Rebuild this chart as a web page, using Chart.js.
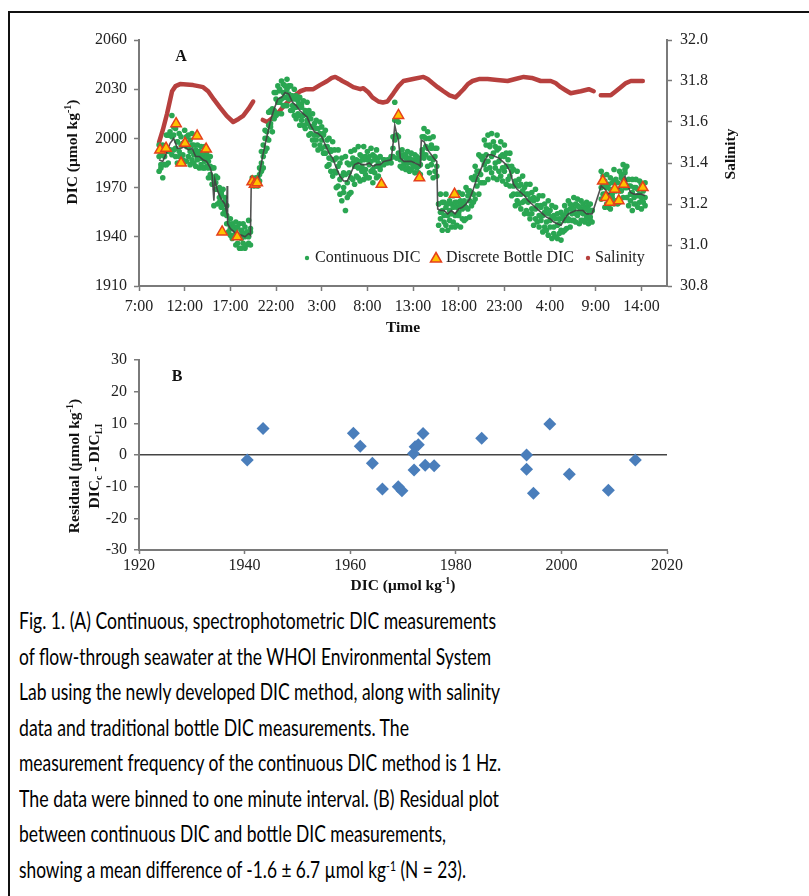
<!DOCTYPE html>
<html><head><meta charset="utf-8">
<script src="https://cdn.jsdelivr.net/npm/chart.js@4.4.1/dist/chart.umd.min.js"></script>
<style>
html,body{margin:0;padding:0;background:#fff;}
body{width:809px;height:896px;position:relative;overflow:hidden;}
#frame{position:absolute;left:8px;top:11px;width:900px;height:1000px;border-left:2px solid #111;border-top:2px solid #111;box-sizing:border-box;}
#cA{position:absolute;left:0;top:0;}
#cB{position:absolute;left:0;top:340px;}
.cap{position:absolute;left:19px;font-family:Lato,'Open Sans',sans-serif;font-size:22.5px;line-height:22.5px;white-space:nowrap;transform-origin:0 0;color:#000;}
.cap sup{font-size:0.6em;line-height:0;vertical-align:0.5em;}
</style></head>
<body>
<div id="frame"></div>
<canvas id="cA" width="809" height="340"></canvas>
<canvas id="cB" width="809" height="260"></canvas>
<div id="caption">
<div class="cap">Fig. 1. (A) Continuous, spectrophotometric DIC measurements</div>
<div class="cap">of flow-through seawater at the WHOI Environmental System</div>
<div class="cap">Lab using the newly developed DIC method, along with salinity</div>
<div class="cap">data and traditional bottle DIC measurements. The</div>
<div class="cap">measurement frequency of the continuous DIC method is 1 Hz.</div>
<div class="cap">The data were binned to one minute interval. (B) Residual plot</div>
<div class="cap">between continuous DIC and bottle DIC measurements,</div>
<div class="cap">showing a mean difference of -1.6 ± 6.7 µmol kg<sup>-1</sup> (N = 23).</div>
</div>
<script>
// ---------------- DATA ----------------
// Panel A: time axis in hours since 00:00 of day 1
const xTickHours = [7,12,17,22,27,32,37,42,47,52,57,62];
const xTickLabels = ['7:00','12:00','17:00','22:00','3:00','8:00','13:00','18:00','23:00','4:00','9:00','14:00'];
const dicTicks = [1910,1940,1970,2000,2030,2060];
const salTicks = [30.8,31.0,31.2,31.4,31.6,31.8,32.0];

// Continuous DIC: sample times (h) with dots read from the upper, middle and lower part of the band (µmol/kg)
const dicHour = [9.2,9.4,9.6,9.8,10.0,10.2,10.4,10.6,10.8,11.0,11.2,11.4,11.6,11.8,12.0,12.2,12.4,12.6,12.8,13.0,
13.2,13.4,13.6,13.8,14.0,14.2,14.4,14.6,14.8,15.0,15.2,15.4,15.6,15.8,16.0,16.2,16.4,16.6,16.8,17.0,
17.2,17.4,17.6,17.8,18.0,18.2,18.4,18.6,18.8,19.0,19.2,19.4,19.6,19.8,20.0,20.2,20.4,20.6,20.8,21.0,
21.2,21.4,21.6,21.8,22.0,22.2,22.4,22.6,22.8,23.0,23.2,23.4,23.6,23.8,24.0,24.2,24.4,24.6,24.8,25.0,
25.2,25.4,25.6,25.8,26.0,26.2,26.4,26.6,26.8,27.0,27.2,27.4,27.6,27.8,28.0,28.2,28.4,28.6,28.8,29.0,
29.2,29.4,29.6,29.8,30.0,30.2,30.4,30.6,30.8,31.0,31.2,31.4,31.6,31.8,32.0,32.2,32.4,32.6,32.8,33.0,
33.2,33.4,33.8,34.2,34.6,
34.8,35.0,35.2,35.4,35.6,35.8,36.0,36.2,36.4,36.6,36.8,37.0,37.2,37.4,37.6,37.8,38.0,38.2,38.4,38.6,
38.8,39.0,39.2,39.4,39.6,39.8,40.0,40.2,40.4,40.6,40.8,41.0,41.2,41.4,41.6,41.8,42.0,42.2,42.4,42.6,
42.8,43.0,43.2,43.4,43.6,43.8,44.0,44.2,44.4,44.6,44.8,45.0,45.2,45.4,45.6,45.8,46.0,46.2,46.4,46.6,
46.8,47.0,47.2,47.4,47.6,47.8,48.0,48.2,48.4,48.6,48.8,49.0,49.2,49.4,49.6,49.8,50.0,50.2,50.4,50.6,
50.8,51.0,51.2,51.4,51.6,51.8,52.0,52.2,52.4,52.6,52.8,53.0,53.2,53.4,53.6,53.8,54.0,54.2,54.4,54.6,
54.8,55.0,55.2,55.4,55.6,55.8,56.0,56.2,56.4,56.6,
57.6,57.8,58.0,58.2,58.4,58.6,58.8,59.0,59.2,59.4,59.6,59.8,60.0,60.2,60.4,60.6,60.8,61.0,61.2,61.4,61.6,61.8,62.0,62.2,62.4];
const dicUpper = [1996,1990,1996,1993,2002,2002,2004,2014,2007,2006,1998,2003,2001,1997,2005,2001,2002,1999,2003,1996,
1993,1996,1992,1995,1990,1995,1991,1986,1989,1982,1982,1977,1976,1970,1967,1969,1964,1959,1948,1951,
1948,1946,1949,1946,1948,1944,1948,1946,1943,1950,1945,1976,1974,1976,1976,1982,1992,1996,2005,2004,
2016,2017,2018,2028,2028,2032,2030,2035,2033,2032,2036,2032,2032,2026,2030,2026,2023,2025,2021,2023,
2017,2022,2017,2012,2015,2009,2011,2006,2010,2007,2003,2005,1999,2000,1993,1998,1993,1988,1993,1985,
1988,1979,1989,1985,1984,1992,1988,1993,1987,1995,1990,1989,1995,1989,1992,1989,1994,1990,1989,1993,
1988,1989,1987,1987,1989,
2001,2022,2011,2010,1990,1993,1990,1990,1992,1988,1991,1987,1990,1989,1986,1988,2001,2006,2000,2004,
2000,1996,2001,1994,1994,1960,1966,1961,1961,1966,1960,1962,1960,1965,1961,1961,1967,1962,1966,1962,
1970,1968,1968,1976,1975,1983,1980,1990,1989,1989,1999,1996,2002,1996,2003,1998,1995,2002,1994,1998,
1990,1996,1991,1987,1991,1983,1981,1974,1980,1975,1972,1977,1970,1972,1966,1972,1967,1964,1969,1963,
1965,1959,1965,1960,1957,1962,1956,1959,1953,1958,1954,1951,1955,1953,1959,1956,1962,1960,1959,1964,
1960,1963,1958,1962,1960,1958,1961,1959,1960,1956,
1980,1977,1974,1978,1972,1976,1973,1981,1975,1973,1980,1978,1984,1981,1983,1975,1971,1975,1970,1975,1969,1974,1972,1970,1973];
const dicMiddle = [1989,1984,1990,1989,1994,1992,2002,2001,2002,1994,1998,1992,1996,1990,1998,1995,1995,1992,1996,1990,
1991,1988,1990,1988,1988,1986,1988,1982,1983,1976,1975,1973,1969,1964,1966,1960,1961,1953,1948,1945,
1945,1941,1944,1941,1941,1939,1942,1940,1941,1940,1943,1974,1973,1974,1975,1978,1985,1989,2000,2000,
2008,2009,2016,2017,2024,2022,2029,2024,2028,2025,2030,2027,2026,2020,2024,2019,2020,2014,2019,2014,
2015,2011,2014,2007,2007,2002,2006,2002,2003,1999,2002,1995,1995,1988,1992,1987,1987,1979,1983,1975,
1977,1970,1978,1973,1979,1976,1985,1983,1985,1982,1986,1983,1987,1981,1987,1984,1986,1981,1987,1983,
1985,1983,1987,1986,1988,
1994,2011,2002,2001,1987,1989,1985,1988,1985,1987,1985,1986,1983,1987,1983,1984,1993,2001,1995,1994,
1988,1994,1987,1989,1983,1960,1955,1956,1953,1958,1953,1956,1954,1958,1953,1958,1955,1959,1957,1960,
1958,1965,1962,1967,1966,1977,1975,1980,1978,1987,1984,1990,1986,1995,1989,1991,1985,1993,1986,1989,
1982,1989,1983,1983,1977,1980,1971,1972,1966,1971,1966,1968,1962,1966,1961,1963,1957,1962,1957,1959,
1953,1958,1953,1955,1949,1954,1950,1952,1946,1951,1947,1948,1944,1951,1950,1954,1951,1957,1954,1957,
1954,1959,1955,1956,1954,1957,1953,1956,1952,1956,
1970,1972,1966,1970,1965,1969,1966,1974,1968,1969,1968,1976,1974,1979,1970,1971,1966,1967,1964,1970,1965,1966,1964,1968,1964];
const dicLower = [1980,1982,1976,1984,1984,1985,1993,1990,1993,1989,1985,1989,1985,1987,1986,1986,1989,1984,1987,1985,
1983,1987,1982,1984,1982,1982,1983,1976,1978,1972,1959,1969,1960,1961,1958,1954,1956,1948,1943,1941,
1939,1940,1935,1936,1933,1933,1936,1933,1935,1936,1935,1973,1971,1973,1971,1974,1980,1982,1992,1994,
1999,2007,2004,2012,2014,2015,2022,2015,2020,2020,2020,2024,2017,2017,2014,2012,2015,2008,2011,2008,
2006,2009,2002,2003,1999,1996,1999,1993,1996,1994,1991,1991,1983,1984,1980,1977,1980,1970,1971,1966,
1962,1967,1956,1964,1966,1967,1975,1972,1977,1976,1974,1980,1975,1978,1976,1976,1980,1973,1979,1976,
1977,1981,1984,1985,1985,
1989,1999,1988,1991,1983,1982,1983,1981,1982,1980,1981,1983,1979,1982,1979,1978,1991,1988,1990,1983,
1979,1984,1976,1980,1977,1947,1951,1944,1949,1947,1944,1950,1946,1949,1946,1947,1953,1946,1951,1950,
1951,1957,1952,1959,1961,1963,1971,1966,1973,1973,1973,1981,1975,1982,1979,1976,1982,1975,1980,1977,
1974,1980,1972,1975,1971,1965,1966,1959,1962,1960,1957,1961,1954,1956,1954,1951,1954,1947,1951,1949,
1946,1950,1943,1946,1944,1941,1946,1939,1942,1940,1939,1942,1938,1943,1944,1945,1950,1946,1950,1950,
1949,1953,1948,1950,1950,1949,1951,1948,1950,1949,
1963,1966,1958,1960,1958,1957,1964,1960,1962,1960,1961,1968,1964,1970,1964,1959,1962,1956,1960,1960,1958,1961,1957,1961,1959];

// Dark running-mean line through the continuous record
const trendHour = [9.2,9.6,10.0,10.4,10.8,11.2,11.6,12.0,12.4,12.8,13.2,13.6,14.0,14.4,14.8,15.0,15.2,15.3,15.6,16.0,16.4,16.6,16.65,16.7,17.0,17.4,17.8,18.2,18.6,19.0,19.2,19.3,19.4,19.8,20.0,20.2,20.6,21.0,21.4,21.8,22.2,22.6,23.0,23.4,23.8,24.2,24.6,25.0,25.4,25.8,26.2,26.6,27.0,27.4,27.8,28.2,28.6,29.0,29.4,29.8,30.2,30.6,31.0,31.4,31.8,32.2,32.6,33.0,33.4,33.8,34.6,34.8,35.0,35.2,35.4,35.6,36.0,36.4,36.8,37.2,37.6,37.8,37.9,38.2,38.6,39.0,39.4,39.6,39.7,40.0,40.4,40.8,41.2,41.6,42.0,42.4,42.8,43.2,43.6,44.0,44.4,44.8,45.2,45.6,46.0,46.4,46.8,47.2,47.6,48.0,48.4,48.8,49.2,49.6,50.0,50.4,50.8,51.2,51.6,52.0,52.4,52.8,53.2,53.6,54.0,54.4,54.8,55.2,55.6,56.0,56.4,56.6,57.6,58.0,58.4,58.8,59.2,59.6,60.0,60.2,60.4,60.8,61.2,61.6,62.0,62.4];
const trendValue = [1987,1986,1991,1997,2000,1994,1994,1995,1993,1994,1989,1989,1987,1986,1982,1978,1962,1975,1968,1963,1960,1955,1971,1948,1945,1943,1941,1941,1940,1942,1941,1977,1974,1974,1973,1979,1991,2001,2011,2018,2024,2025,2028,2027,2022,2020,2017,2015,2013,2008,2004,2003,2001,1996,1991,1988,1982,1977,1974,1974,1979,1984,1985,1984,1984,1985,1983,1984,1984,1986,1987,1996,2008,2003,1999,1988,1986,1986,1986,1985,1984,1983,1999,1998,1993,1990,1987,1986,1957,1956,1956,1954,1956,1954,1957,1958,1960,1963,1969,1976,1981,1986,1990,1990,1989,1988,1986,1984,1980,1972,1969,1967,1965,1962,1960,1958,1956,1954,1952,1951,1949,1948,1947,1951,1954,1955,1956,1956,1956,1954,1954,1954,1971,1969,1966,1969,1969,1970,1975,1977,1973,1967,1966,1966,1966,1965];

// Discrete bottle DIC (hour, µmol/kg)
const bottleHour = [9.30,9.96,11.06,11.61,12.04,13.36,14.35,16.10,17.75,19.39,19.65,19.94,33.54,35.40,37.70,41.54,57.77,58.10,58.54,59.08,59.52,60.07,62.15];
const bottleValue = [1993,1994,2009,1985,1997,2001.5,1993.5,1943,1940,1973.5,1972,1973,1972,2014,1976,1966,1974,1964,1961,1969,1962,1972,1970];

// Salinity (hour, PSU); null = gap in record
const salHour = [9.19,9.6,10.07,10.62,11.0,11.5,12.2,12.92,13.5,14.02,14.57,15.2,15.88,16.6,17.31,17.9,18.4,19.0,19.5,20.0,20.55,21.04,21.6,22.13,22.8,23.56,24.1,24.65,25.3,26.08,26.8,27.61,28.1,28.49,28.9,29.26,29.9,30.46,31.23,31.56,32.1,32.55,33.21,33.7,34.19,34.85,35.4,35.95,37.0,38.14,38.6,39.13,39.7,40.33,41.0,41.65,42.1,42.53,43.0,43.51,44.3,45.16,46.2,47.35,48.2,49.11,50.0,50.97,52.07,52.6,53.16,53.7,54.26,54.8,55.36,56.23,56.78,57.2,57.55,58.1,58.64,59.2,59.74,60.3,60.84,61.5,62.15];
const salValue = [31.50,31.56,31.64,31.75,31.775,31.785,31.783,31.78,31.775,31.77,31.75,31.71,31.67,31.63,31.60,31.615,31.63,31.665,31.70,null,31.61,31.60,31.62,31.64,31.675,31.71,31.73,31.75,31.76,31.76,31.78,31.80,31.815,31.82,31.81,31.80,31.785,31.77,31.76,31.765,31.745,31.72,31.70,31.695,31.70,31.74,31.775,31.80,31.81,31.82,31.81,31.79,31.77,31.75,31.73,31.72,31.74,31.76,31.785,31.80,31.81,31.81,31.805,31.80,31.81,31.82,31.815,31.80,31.80,31.79,31.77,31.755,31.74,31.745,31.75,31.76,31.75,null,31.73,31.73,31.73,31.75,31.77,31.79,31.80,31.80,31.80];

// Panel B: residuals vs bottle DIC
const resDIC = [1940.5,1943.5,1960.6,1961.9,1964.2,1966.1,1969.1,1969.8,1972.0,1972.1,1972.3,1972.9,1973.8,1974.2,1975.9,1984.9,1993.4,1993.4,1994.7,1997.8,2001.5,2008.9,2014.0];
const resValue = [-1.6,8.4,6.9,2.8,-2.6,-10.7,-10.0,-11.3,0.5,-4.7,2.6,3.2,6.8,-3.2,-3.4,5.3,0.0,-4.5,-12.1,9.8,-6.1,-11.1,-1.6];

// Text
const legendLabels = ['Continuous DIC','Discrete Bottle DIC','Salinity'];
const titleAy = [['DIC (μmol kg',0],['-1',1],[')',0]];
const titleAx = [['Time',0]];
const titleAy2 = [['Salinity',0]];
const titleBy1 = [['Residual (μmol kg',0],['-1',1],[')',0]];
const titleBy2 = [['DIC',0],['c',2],[' - DIC',0],['LI',2]];
const titleBx = [['DIC (μmol kg',0],['-1',1],[')',0]];

// ---------------- STYLE ----------------
const SERIF = "'Liberation Serif','Times New Roman',serif";
const GREEN = 'rgb(42,166,82)';
const SAL = 'rgb(183,64,62)';
const AXIS = '#7a7a7a';
Chart.defaults.font.family = SERIF;
Chart.defaults.font.size = 16;
Chart.defaults.color = '#222';
Chart.defaults.animation = false;

function drawRich(ctx, parts, cx, cy, rot, size, bold) {
  const w = bold ? 'bold ' : '';
  let total = 0;
  const fonts = parts.map(p => {
    const s = p[1] ? size * 0.65 : size;
    const f = w + s + 'px ' + SERIF;
    ctx.font = f;
    const tw = ctx.measureText(p[0]).width;
    total += tw;
    return {f, tw, dy: p[1] === 1 ? -size * 0.32 : (p[1] === 2 ? size * 0.28 : 0)};
  });
  ctx.save();
  ctx.translate(cx, cy);
  ctx.rotate(rot);
  ctx.fillStyle = '#111';
  ctx.textBaseline = 'middle';
  ctx.textAlign = 'left';
  let x = -total / 2;
  parts.forEach((p, i) => {
    ctx.font = fonts[i].f;
    ctx.fillText(p[0], x, fonts[i].dy);
    x += fonts[i].tw;
  });
  ctx.restore();
}

function fixedTicks(arr) {
  return scale => { scale.ticks = arr.map(v => ({value: v})); };
}

const textA = {
  id: 'textA',
  afterDraw(chart) {
    const ctx = chart.ctx;
    drawRich(ctx, titleAy, 73, 152, -Math.PI / 2, 15.5, true);
    drawRich(ctx, titleAx, 403, 328, 0, 15.5, true);
    drawRich(ctx, titleAy2, 731, 154, -Math.PI / 2, 15.5, true);
    drawRich(ctx, [['A',0]], 181, 57, 0, 16, true);
    // legend
    const ly = 258;
    ctx.save();
    ctx.fillStyle = GREEN;
    ctx.beginPath(); ctx.arc(307, ly, 2.2, 0, Math.PI * 2); ctx.fill();
    ctx.beginPath();
    ctx.moveTo(436, ly - 5.5); ctx.lineTo(441.5, ly + 4); ctx.lineTo(430.5, ly + 4); ctx.closePath();
    ctx.fillStyle = '#FFC000'; ctx.fill();
    ctx.strokeStyle = '#E5401C'; ctx.lineWidth = 1.5; ctx.stroke();
    ctx.fillStyle = SAL;
    ctx.beginPath(); ctx.arc(588, ly, 2.2, 0, Math.PI * 2); ctx.fill();
    ctx.fillStyle = '#222';
    ctx.font = '16px ' + SERIF;
    ctx.textBaseline = 'middle';
    ctx.fillText(legendLabels[0], 315, ly);
    ctx.fillText(legendLabels[1], 446, ly);
    ctx.fillText(legendLabels[2], 595, ly);
    ctx.restore();
  }
};

const textB = {
  id: 'textB',
  afterDraw(chart) {
    const ctx = chart.ctx;
    drawRich(ctx, titleBy1, 75, 126, -Math.PI / 2, 15.5, true);
    drawRich(ctx, titleBy2, 95, 126, -Math.PI / 2, 15.5, true);
    drawRich(ctx, titleBx, 403, 246, 0, 15.5, true);
    drawRich(ctx, [['B',0]], 177, 37, 0, 16, true);
  }
};

const axisCommon = {
  border: {color: AXIS, width: 2},
  grid: {drawOnChartArea: false, color: AXIS, tickLength: 5, tickWidth: 1.5},
};

const dicPoints = [];
dicHour.forEach((h, i) => {
  dicPoints.push({x: h, y: dicUpper[i]});
  dicPoints.push({x: h, y: dicMiddle[i]});
  dicPoints.push({x: h, y: dicLower[i]});
});

new Chart(document.getElementById('cA'), {
  type: 'scatter',
  data: {
    datasets: [
      {
        label: legendLabels[1],
        data: bottleHour.map((h, i) => ({x: h, y: bottleValue[i]})),
        yAxisID: 'y',
        pointStyle: 'triangle',
        pointRadius: 6,
        pointBackgroundColor: '#FFC000',
        pointBorderColor: '#E5401C',
        pointBorderWidth: 1.5,
        showLine: false
      },
      {
        label: 'running mean',
        data: trendHour.map((h, i) => ({x: h, y: trendValue[i]})),
        yAxisID: 'y',
        showLine: true,
        borderColor: 'rgba(64,64,64,0.9)',
        borderWidth: 1.6,
        pointRadius: 0,
        tension: 0
      },
      {
        label: legendLabels[0],
        data: dicPoints,
        yAxisID: 'y',
        showLine: false,
        pointRadius: 2.8,
        pointBorderWidth: 0,
        pointBackgroundColor: GREEN
      },
      {
        label: legendLabels[2],
        data: salHour.map((h, i) => ({x: h, y: salValue[i]})),
        yAxisID: 'y2',
        showLine: true,
        spanGaps: false,
        borderColor: SAL,
        borderWidth: 4.5,
        borderCapStyle: 'round',
        borderJoinStyle: 'round',
        pointRadius: 0
      }
    ]
  },
  options: {
    responsive: false,
    layout: {padding: {top: 40, left: 0, right: 0, bottom: 0}},
    plugins: {legend: {display: false}, tooltip: {enabled: false}},
    scales: {
      x: Object.assign({}, axisCommon, {
        type: 'linear', min: 7, max: 64.8,
        afterBuildTicks: fixedTicks(xTickHours),
        afterFit: s => { s.height = 54; },
        ticks: {padding: 6, maxRotation: 0, autoSkip: false,
          callback: v => xTickLabels[xTickHours.indexOf(v)]}
      }),
      y: Object.assign({}, axisCommon, {
        position: 'left', min: 1910, max: 2060,
        afterBuildTicks: fixedTicks(dicTicks),
        afterFit: s => { s.width = 139; },
        ticks: {padding: 7, callback: v => String(v)}
      }),
      y2: Object.assign({}, axisCommon, {
        position: 'right', min: 30.8, max: 32.0,
        afterBuildTicks: fixedTicks(salTicks),
        afterFit: s => { s.width = 142; },
        ticks: {padding: 8, callback: v => v.toFixed(1)}
      })
    }
  },
  plugins: [textA]
});

new Chart(document.getElementById('cB'), {
  type: 'scatter',
  data: {
    datasets: [{
      label: 'Residual',
      data: resDIC.map((d, i) => ({x: d, y: resValue[i]})),
      pointStyle: 'rectRot',
      pointRadius: 6.5,
      pointBackgroundColor: '#4A7EBB',
      pointBorderColor: '#4A7EBB',
      pointBorderWidth: 0
    }]
  },
  options: {
    responsive: false,
    layout: {padding: {top: 20, left: 0, right: 142, bottom: 0}},
    plugins: {legend: {display: false}, tooltip: {enabled: false}},
    scales: {
      x: {
        type: 'linear', min: 1920, max: 2020,
        border: {color: AXIS, width: 2},
        grid: {drawOnChartArea: false, color: AXIS, tickLength: 4, tickWidth: 1.5},
        afterFit: s => { s.height = 50; },
        ticks: {stepSize: 20, padding: 2, maxRotation: 0, callback: v => String(v)}
      },
      y: {
        min: -30, max: 30,
        border: {color: AXIS, width: 2},
        grid: {drawOnChartArea: true, drawTicks: true, tickLength: 5, tickWidth: 1.5, tickColor: AXIS,
          color: c => (c.tick && c.tick.value === 0) ? '#444' : 'rgba(0,0,0,0)', lineWidth: 1.5},
        afterFit: s => { s.width = 139; },
        ticks: {stepSize: 10, padding: 7, callback: v => String(v)}
      }
    }
  },
  plugins: [textB]
});

// Caption layout: baselines and fitted widths
const capBaselines = [629, 664.5, 700, 735.5, 771, 806.5, 842, 877.5];
const capWidths = [477, 472, 481, 390, 482, 480, 427, 447];
document.querySelectorAll('.cap').forEach((el, i) => {
  const probe = document.createElement('span');
  probe.style.cssText = 'display:inline-block;width:0;height:0;vertical-align:baseline;';
  el.appendChild(probe);
  el.style.top = '0px';
  const base = probe.getBoundingClientRect().top - el.getBoundingClientRect().top;
  el.removeChild(probe);
  const w = el.getBoundingClientRect().width;
  el.style.top = (capBaselines[i] - base) + 'px';
  el.style.transform = 'scaleX(' + (capWidths[i] / w) + ')';
});
</script>
</body></html>
